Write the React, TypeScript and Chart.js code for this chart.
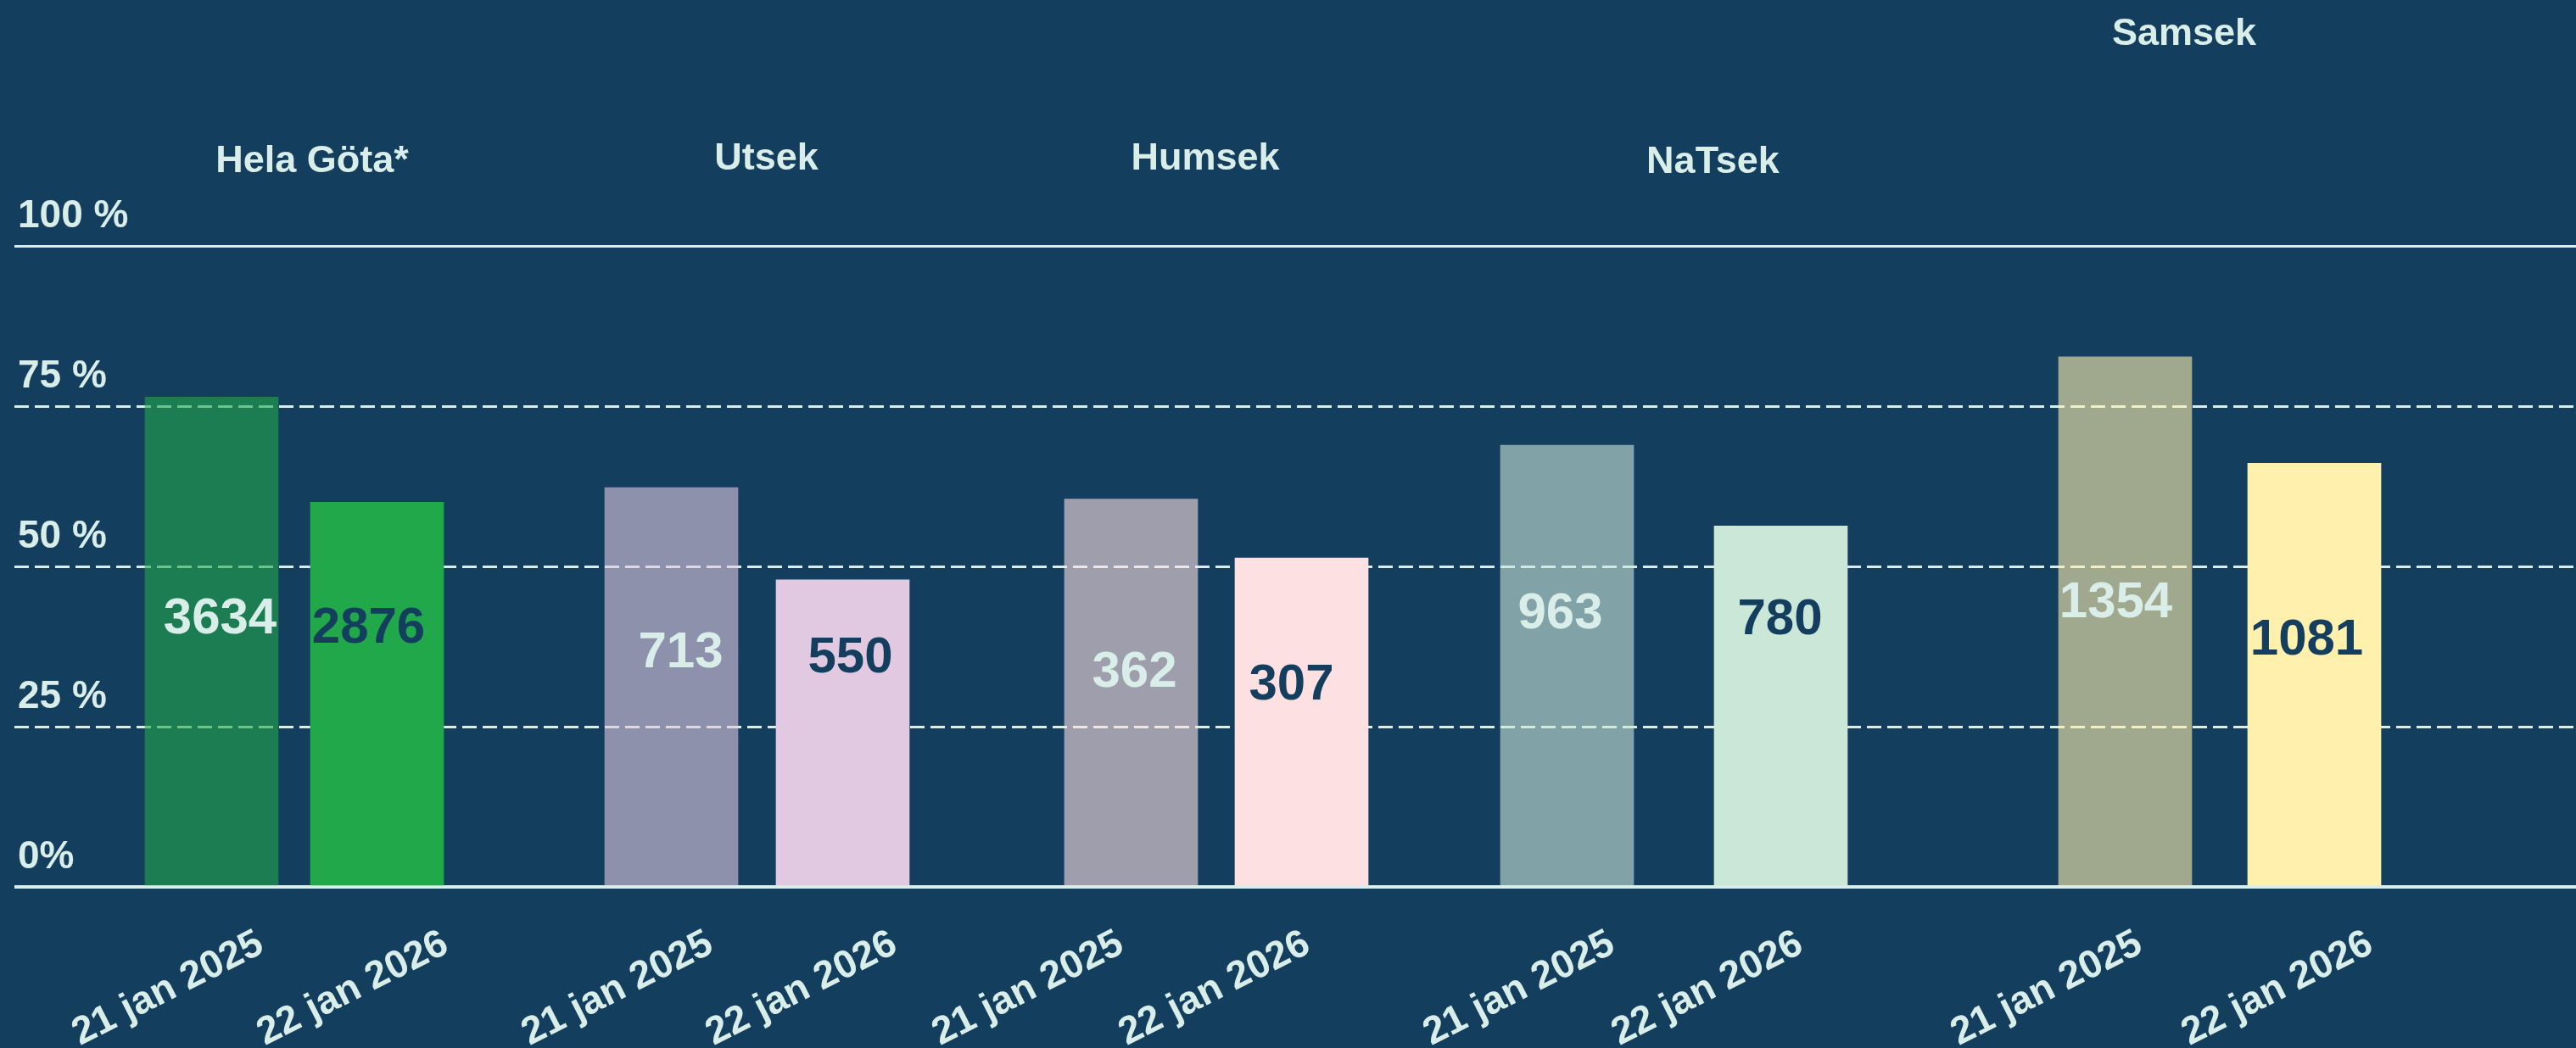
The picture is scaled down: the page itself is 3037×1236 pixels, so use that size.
import React, { useEffect, useRef } from 'react';
import { Chart, registerables } from 'chart.js';

Chart.register(...registerables);

// ---------- data ----------
const groups = ['Hela Göta*', 'Utsek', 'Humsek', 'NaTsek', 'Samsek'];
const dates = ['21 jan 2025', '22 jan 2026'];
const share2025 = [76.4, 62.3, 60.5, 68.9, 82.7];
const share2026 = [60.0, 47.9, 51.3, 56.3, 66.1];
const count2025 = [3634, 713, 362, 963, 1354];
const count2026 = [2876, 550, 307, 780, 1081];
const yTickValues = [0, 25, 50, 75, 100];
const yTickLabels = ['0%', '25 %', '50 %', '75 %', '100 %'];

// ---------- layout & style ----------
const W = 3037;
const H = 1236;
const BG = '#133e5e';
const INK = '#d9ede9';
const NAVY = '#143e5e';
const FONT = '"Liberation Sans", Arial, Helvetica, sans-serif';
const groupColors = ['#21a84a', '#e1c9e1', '#fde0e2', '#cbe7d8', '#fff0ae'];
const fadedAlpha = 0.6;
const xMin = -0.02;
const xMax = 30.18;
const barSlots2025 = [2.305, 7.725, 13.145, 18.285, 24.865];
const barSlots2026 = [4.255, 9.745, 15.155, 20.805, 27.095];
const tickSlots = [2.885, 5.065, 8.185, 10.355, 13.025, 15.225, 18.815, 21.035, 25.035, 27.755];
const labelLevel2025 = [42.3, 37.0, 33.9, 43.0, 44.8];
const labelLevel2026 = [40.8, 36.2, 31.9, 42.2, 39.0];
const labelNudge2025 = [10, 11, 4, -8, -11];
const labelNudge2026 = [-10, 9, -12, -1, -9];
const valueLabelDy = 4;
const titleNudge = [21, 11, -13, 46, -42];
const titleBaseline = [203, 200, 200, 204, 53];

function withAlpha(hex: string, a: number): string {
  const n = parseInt(hex.slice(1), 16);
  return `rgba(${(n >> 16) & 255}, ${(n >> 8) & 255}, ${n & 255}, ${a})`;
}

const backgroundPlugin = {
  id: 'bgFill',
  beforeDraw(chart: any) {
    const { ctx } = chart;
    ctx.save();
    ctx.fillStyle = BG;
    ctx.fillRect(0, 0, chart.width, chart.height);
    ctx.restore();
  },
};

const overlayPlugin = {
  id: 'overlay',
  afterDatasetsDraw(chart: any) {
    const { ctx } = chart;
    const x = chart.scales.x;
    const y = chart.scales.y;
    ctx.save();
    ctx.textAlign = 'center';
    ctx.textBaseline = 'middle';
    ctx.font = `bold 60px ${FONT}`;
    const sets = [
      { counts: count2025, slots: barSlots2025, levels: labelLevel2025, nudges: labelNudge2025, color: INK },
      { counts: count2026, slots: barSlots2026, levels: labelLevel2026, nudges: labelNudge2026, color: NAVY },
    ];
    sets.forEach((s) => {
      ctx.fillStyle = s.color;
      s.counts.forEach((c, i) => {
        ctx.fillText(
          String(c),
          x.getPixelForValue(s.slots[i]) + s.nudges[i],
          y.getPixelForValue(s.levels[i]) + valueLabelDy
        );
      });
    });
    ctx.fillStyle = INK;
    ctx.textBaseline = 'alphabetic';
    ctx.font = `bold 45px ${FONT}`;
    groups.forEach((g, i) => {
      const cx = (x.getPixelForValue(barSlots2025[i]) + x.getPixelForValue(barSlots2026[i])) / 2 + titleNudge[i];
      ctx.fillText(g, cx, titleBaseline[i]);
    });
    ctx.restore();
  },
};

export default function App() {
  const canvasRef = useRef<HTMLCanvasElement | null>(null);

  useEffect(() => {
    document.body.style.margin = '0';
    document.body.style.background = BG;
    const canvas = canvasRef.current;
    if (!canvas) return;
    Chart.defaults.font.family = FONT;

    const chart = new Chart(canvas, {
      type: 'bar',
      data: {
        datasets: [
          {
            label: dates[0],
            data: barSlots2025.map((s, i) => ({ x: s, y: share2025[i] })),
            backgroundColor: groupColors.map((c) => withAlpha(c, fadedAlpha)),
            borderWidth: 0,
            grouped: false,
            barPercentage: 1,
            categoryPercentage: 1,
            maxBarThickness: 157,
          },
          {
            label: dates[1],
            data: barSlots2026.map((s, i) => ({ x: s, y: share2026[i] })),
            backgroundColor: groupColors,
            borderWidth: 0,
            grouped: false,
            barPercentage: 1,
            categoryPercentage: 1,
            maxBarThickness: 157,
          },
        ],
      } as any,
      options: {
        responsive: false,
        maintainAspectRatio: false,
        animation: false,
        layout: { padding: { left: 17, right: 0, top: 290, bottom: 0 } },
        plugins: {
          legend: { display: false },
          tooltip: { enabled: false },
        },
        scales: {
          x: {
            type: 'linear',
            min: xMin,
            max: xMax,
            offset: false,
            afterBuildTicks: (scale: any) => {
              scale.ticks = tickSlots.map((v) => ({ value: v }));
            },
            afterFit: (scale: any) => {
              scale.height = 190;
            },
            ticks: {
              autoSkip: false,
              minRotation: 27,
              maxRotation: 27,
              padding: 40,
              color: INK,
              font: { size: 46, weight: 'bold', family: FONT },
              callback: (_v: any, index: number) => dates[index % 2],
            },
            grid: { display: false, drawTicks: false },
            border: { display: false },
          },
          y: {
            min: 0,
            max: 100,
            afterBuildTicks: (scale: any) => {
              scale.ticks = yTickValues.map((v) => ({ value: v }));
            },
            afterFit: (scale: any) => {
              scale.width = 0;
            },
            ticks: {
              mirror: true,
              padding: 4,
              labelOffset: -35,
              color: INK,
              font: { size: 46, weight: 'bold', family: FONT },
              callback: (v: any) => yTickLabels[yTickValues.indexOf(Number(v))],
            },
            grid: {
              drawTicks: false,
              color: INK,
              lineWidth: (ctx: any) => (ctx.tick && ctx.tick.value === 0 ? 4 : 3),
            },
            border: {
              display: false,
              dash: (ctx: any) => (ctx.tick && ctx.tick.value % 100 !== 0 ? [17, 7] : []),
            },
          },
        },
      } as any,
      plugins: [backgroundPlugin, overlayPlugin],
    });

    return () => chart.destroy();
  }, []);

  return (
    <div style={{ width: W, height: H, background: BG }}>
      <canvas ref={canvasRef} width={W} height={H} style={{ display: 'block' }} />
    </div>
  );
}
